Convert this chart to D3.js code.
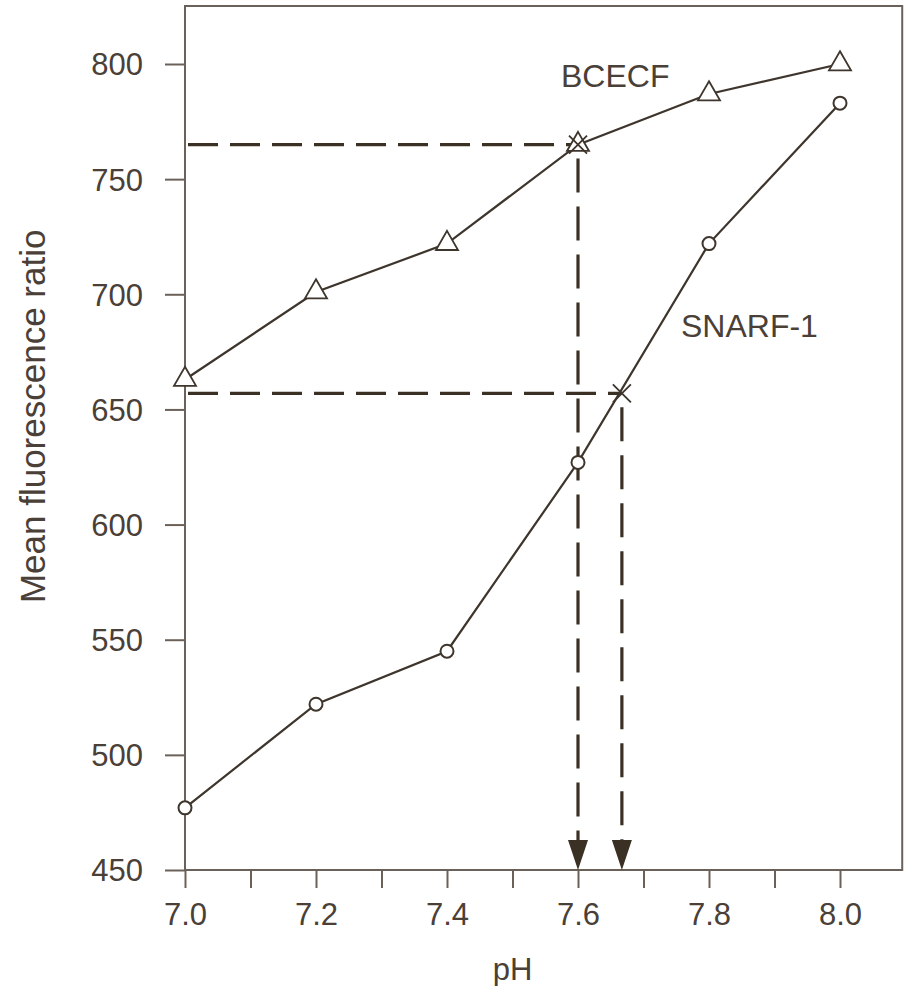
<!DOCTYPE html>
<html><head><meta charset="utf-8">
<script src="https://cdn.jsdelivr.net/npm/d3@7"></script>
<style>body{margin:0;background:#fff}svg{display:block}text{font-family:"Liberation Sans",Arial,sans-serif;fill:#4a4037}</style>
</head><body><svg id="c" width="907" height="986"></svg>
<script>
const pH = [7.0, 7.2, 7.4, 7.6, 7.8, 8.0];
const bcecf = [663, 701, 722, 765, 787, 800];
const snarf = [477, 522, 545, 627, 722, 783];
const yTicks = [450, 500, 550, 600, 650, 700, 750, 800];
const xTicks = [7.0, 7.1, 7.2, 7.3, 7.4, 7.5, 7.6, 7.7, 7.8, 7.9, 8.0];
const xLabels = [7.0, 7.2, 7.4, 7.6, 7.8, 8.0];
const readings = [{pH: 7.6, value: 765}, {pH: 7.667, value: 657}];

const svg = d3.select("#c");
const x = d3.scaleLinear().domain([7.0, 8.0]).range([185, 840]);
const y = d3.scaleLinear().domain([450, 800]).range([870, 64]);
const xMax = 8.095, yMax = 825.2;
const axisCol = "#6b6158", lineCol = "#3e352c", dashCol = "#3a3024";

// box
svg.append("path").attr("d", `M${x(7)},${y(450)}V${y(yMax)}H${x(xMax)}V${y(450)}Z`)
  .attr("fill", "none").attr("stroke", axisCol).attr("stroke-width", 2);

// y axis
const ya = svg.append("g").attr("transform", `translate(${x(7)},0)`)
  .call(d3.axisLeft(y).tickValues(yTicks).tickSize(20).tickPadding(22).tickFormat(d3.format("d")));
ya.select(".domain").remove();
ya.selectAll("line").attr("stroke", axisCol).attr("stroke-width", 2);
ya.selectAll("text").style("font-size", "31px").attr("fill", "#4a4037").attr("dy", "0.35em");

// x axis
const xa = svg.append("g").attr("transform", `translate(0,${y(450)})`)
  .call(d3.axisBottom(x).tickValues(xTicks).tickSize(18).tickPadding(15)
    .tickFormat(d => xLabels.some(v => Math.abs(v - d) < 1e-9) ? d3.format(".1f")(d) : ""));
xa.select(".domain").remove();
xa.selectAll("line").attr("stroke", axisCol).attr("stroke-width", 2);
xa.selectAll("text").style("font-size", "31px").attr("fill", "#4a4037");

// dashed reading lines
const dash = "30 12";
readings.forEach(r => {
  svg.append("line").attr("x1", x(7) + 3).attr("x2", x(r.pH)).attr("y1", y(r.value)).attr("y2", y(r.value))
    .attr("stroke", dashCol).attr("stroke-width", 3.2).attr("stroke-dasharray", dash);
  svg.append("line").attr("x1", x(r.pH)).attr("x2", x(r.pH)).attr("y1", y(r.value) + 14).attr("y2", y(450) - 28)
    .attr("stroke", dashCol).attr("stroke-width", 3.2).attr("stroke-dasharray", "34 14");
  const ax = x(r.pH), ay = y(450);
  svg.append("path").attr("d", `M${ax},${ay}L${ax - 10},${ay - 30}L${ax + 10},${ay - 30}Z`).attr("fill", dashCol);
});

// series lines
const line = d3.line().x(d => x(d[0])).y(d => y(d[1]));
svg.append("path").datum(pH.map((p, i) => [p, bcecf[i]])).attr("d", line)
  .attr("fill", "none").attr("stroke", lineCol).attr("stroke-width", 2.2);
svg.append("path").datum(pH.map((p, i) => [p, snarf[i]])).attr("d", line)
  .attr("fill", "none").attr("stroke", lineCol).attr("stroke-width", 2.2);

// markers
const tri = d3.symbol().type(d3.symbolTriangle).size(210);
svg.selectAll(".tri").data(pH.map((p, i) => [p, bcecf[i]])).join("path")
  .attr("transform", d => `translate(${x(d[0])},${y(d[1])})`).attr("d", tri)
  .attr("fill", "#fff").attr("stroke", lineCol).attr("stroke-width", 1.8);
svg.selectAll(".circ").data(pH.map((p, i) => [p, snarf[i]])).join("circle")
  .attr("cx", d => x(d[0])).attr("cy", d => y(d[1])).attr("r", 6.5)
  .attr("fill", "#fff").attr("stroke", lineCol).attr("stroke-width", 2);

// crosses at readings
readings.forEach(r => {
  const cx = x(r.pH), cy = y(r.value), s = 9;
  svg.append("path").attr("d", `M${cx - s},${cy - s}L${cx + s},${cy + s}M${cx - s},${cy + s}L${cx + s},${cy - s}`)
    .attr("stroke", lineCol).attr("stroke-width", 1.8);
});

// labels
svg.append("text").attr("x", 561).attr("y", 87).style("font-size", "32px").text("BCECF");
svg.append("text").attr("x", 681).attr("y", 337).style("font-size", "32px").text("SNARF-1");
svg.append("text").attr("x", x(7.5)).attr("y", 980).attr("text-anchor", "middle").style("font-size", "31px").text("pH");
svg.append("text").attr("transform", `translate(45,${y(647)}) rotate(-90)`).attr("text-anchor", "middle")
  .style("font-size", "35px").text("Mean fluorescence ratio");
</script></body></html>
